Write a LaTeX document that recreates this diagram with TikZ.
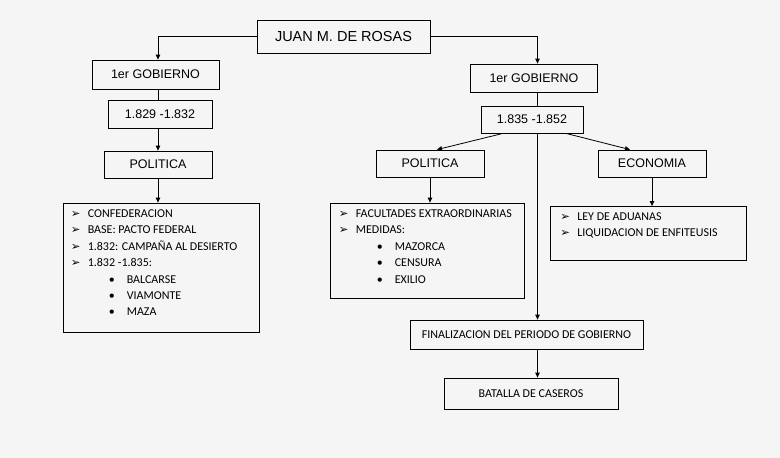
\documentclass[tikz,border=0pt]{standalone}
\usepackage{fontspec}
\setmainfont{Liberation Sans}
\newfontfamily\listfont{Carlito}
\newfontfamily\symfont{DejaVu Sans}
\usetikzlibrary{arrows.meta, positioning}
\definecolor{paper}{RGB}{245,245,245}
\newcommand{\flecha}[1]{\makebox[17pt][l]{\symfont\fontsize{11.5}{10}\selectfont ➢}#1}
\newcommand{\punto}[1]{\hspace{38pt}\makebox[18pt][l]{•}#1}

\begin{document}
\begin{tikzpicture}[x=1pt, y=-1pt,
  caja/.style={draw, line width=0.8pt, fill=paper, inner sep=0pt,
               font=\fontsize{12.5}{14}\selectfont},
  cajalista/.style={caja, font=\listfont\fontsize{12}{14}\selectfont},
  lista/.style={draw, line width=0.8pt, fill=paper, inner sep=0pt},
  items/.style={align=left, inner sep=0pt, anchor=north west,
                font=\listfont\fontsize{12}{16.4}\selectfont},
  arrow/.style={-{Triangle[length=5pt, width=4.5pt]}, line width=0.8pt}
]
\fill[paper] (0,0) rectangle (780,458);
\useasboundingbox (0,0) rectangle (780,458);

% top
\node[caja, minimum width=173pt, minimum height=33pt,
      font=\fontsize{14.5}{16}\selectfont] (rosas) at (343.5,36.5) {JUAN M. DE ROSAS};
\coordinate (eje) at (537.5,0);

% left branch: first government
\node[caja, minimum width=127pt, minimum height=29pt] (gob1) at (155.5,74.5) {1er GOBIERNO};
\node[caja, minimum width=104pt, minimum height=28pt] (anos1) at (160,114) {1.829 -1.832};
\node[caja, minimum width=108pt, minimum height=27pt] (pol1) at (158,164.5) {POLITICA};
\node[lista, minimum width=196pt, minimum height=129pt] (lista1) at (161,267.5) {};
\node[items] (items1) at ([shift={(8,7)}]lista1.north west)
  {\flecha{CONFEDERACION}\\
   \flecha{BASE: PACTO FEDERAL}\\
   \flecha{1.832: CAMPAÑA AL DESIERTO}\\
   \flecha{1.832 -1.835:}\\
   \punto{BALCARSE}\\
   \punto{VIAMONTE}\\
   \punto{MAZA}};

% right branch: second government
\node[caja, minimum width=127pt, minimum height=28pt] (gob2) at (534,78) {1er GOBIERNO};
\node[caja, minimum width=102pt, minimum height=27pt] (anos2) at (532,119.5) {1.835 -1.852};
\node[caja, minimum width=108pt, minimum height=27pt] (pol2) at (430,163.5) {POLITICA};
\node[caja, minimum width=108pt, minimum height=27pt] (econ) at (652,163.5) {ECONOMIA};
\node[lista, minimum width=194pt, minimum height=95pt] (lista2) at (427,250.5) {};
\node[items] (items2) at ([shift={(9,7)}]lista2.north west)
  {\flecha{FACULTADES EXTRAORDINARIAS}\\
   \flecha{MEDIDAS:}\\
   \punto{MAZORCA}\\
   \punto{CENSURA}\\
   \punto{EXILIO}};
\node[lista, minimum width=196pt, minimum height=54pt] (lista3) at (648.5,233.5) {};
\node[items] (items3) at ([shift={(10,6)}]lista3.north west)
  {\flecha{LEY DE ADUANAS}\\
   \flecha{LIQUIDACION DE ENFITEUSIS}};
\node[cajalista, minimum width=233pt, minimum height=29pt] (fin) at (526.5,334.5)
  {FINALIZACION DEL PERIODO DE GOBIERNO};
\node[cajalista, minimum width=174pt, minimum height=31pt] (batalla) at (531,393.5)
  {BATALLA DE CASEROS};

% connectors
\draw[arrow] (rosas.west) -| (gob1.north -| pol1.north);
\draw[line width=0.8pt] (gob1.south -| pol1.north) -- (anos1.north -| pol1.north);
\draw[arrow] (anos1.south -| pol1.north) -- (pol1.north);
\draw[arrow] (pol1.south) -- (pol1.south |- lista1.north);

\draw[arrow] (rosas.east) -| (gob2.north -| eje);
\draw[line width=0.8pt] (gob2.south -| eje) -- (anos2.north -| eje);
\draw[arrow] ([xshift=-29pt]anos2.south) -- ([xshift=7pt]pol2.north);
\draw[arrow] ([xshift=34pt]anos2.south) -- ([xshift=-22pt]econ.north);
\draw[arrow] (anos2.south -| eje) -- (fin.north -| eje);
\draw[arrow] (pol2.south) -- (pol2.south |- lista2.north);
\draw[arrow] (econ.south) -- (econ.south |- lista3.north);
\draw[arrow] (fin.south -| eje) -- (batalla.north -| eje);
\end{tikzpicture}
\end{document}
